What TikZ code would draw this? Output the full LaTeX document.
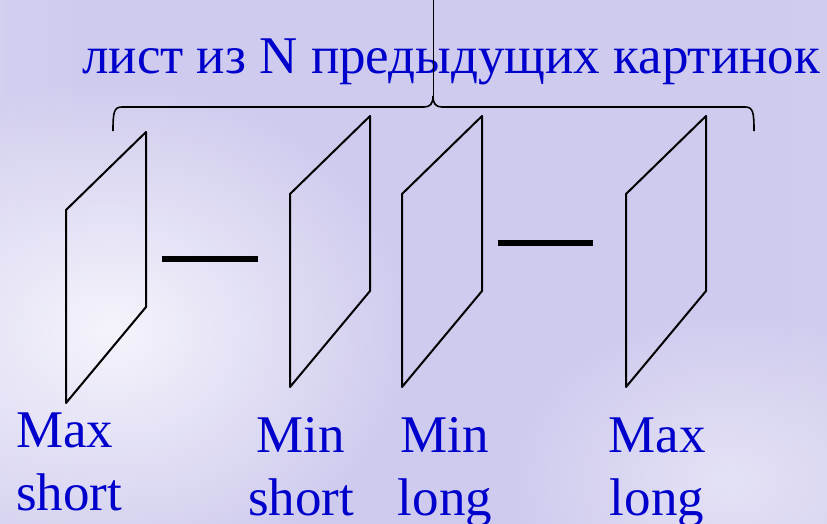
\documentclass[tikz,border=0pt]{standalone}
\usepackage{fontspec}
\setmainfont{Liberation Serif}
\usepackage{tikz}
\usetikzlibrary{arrows.meta,positioning,fadings}

\definecolor{bgleft}{RGB}{226,225,244}
\definecolor{bgmid}{RGB}{207,203,238}
\definecolor{bgright}{RGB}{212,208,240}
\definecolor{txtblue}{RGB}{0,0,204}
\pgfdeclarehorizontalshading{bgshade}{100bp}{color(0bp)=(bgleft); color(30bp)=(bgmid); color(70bp)=(bgmid); color(100bp)=(bgright)}
\tikzfading[name=glow, inner color=transparent!0, outer color=transparent!100]

\begin{document}
\begin{tikzpicture}[x=1pt, y=-1pt,
	lbl/.style={text=txtblue, font=\fontsize{53}{63}\selectfont, inner sep=0pt, align=center},
	frame/.style={draw=black, line width=2pt, line join=round},
	bar/.style={line width=6pt}]
	\useasboundingbox (0,0) rectangle (827,523);
	\begin{scope}
		\clip (0,0) rectangle (827,523);
		\shade[shading=bgshade] (0,0) rectangle (827,523);
		\fill[white, opacity=0.8, path fading=glow] (110,330) ellipse (300 and 250);
		\fill[white, opacity=0.45, path fading=glow] (730,480) ellipse (220 and 170);
	\end{scope}
	% title and brace
	\node[text=txtblue, font=\fontsize{53}{60}\selectfont, inner sep=0pt, anchor=base west] (title) at (82,73) {лист из N предыдущих картинок};
	\coordinate (tip) at (433,96);
	\coordinate (top) at (433,0);
	\draw[line width=1.6pt] (113,131) .. controls (113,112) and (114,107) .. (122,107)
		-- (424,107) .. controls (430,107) and (433,104) .. (tip)
		.. controls (433,104) and (436,107) .. (442,107)
		-- (745,107) .. controls (753,107) and (754,112) .. (754,131);
	\draw[line width=1pt] (top) -- (tip);
	% frames
	\foreach \n/\x/\y in {a/66/210, b/290/194, c/402/194, d/626/194} {
		\coordinate (\n tl) at (\x,\y);
		\coordinate (\n bl) at (\x,\y+193);
		\coordinate (\n tr) at (\x+80,\y-78);
		\coordinate (\n br) at (\x+80,\y+97);
		\draw[frame] (\n tl) -- (\n tr) -- (\n br) -- (\n bl) -- cycle;
	}
	\draw[bar] (162,259) -- (258,259);
	\draw[bar] (498,243) -- (593,243);
	% labels (base = last line)
	\node[lbl, align=left, anchor=base west] (maxs) at (16,510) {Max\\short};
	\node[lbl, anchor=base] (mins) at (301,515) {Min\\short};
	\node[lbl, anchor=base] (minl) at (445,515) {Min\\long};
	\node[lbl, anchor=base] (maxl) at (657,515) {Max\\long};
\end{tikzpicture}
\end{document}
